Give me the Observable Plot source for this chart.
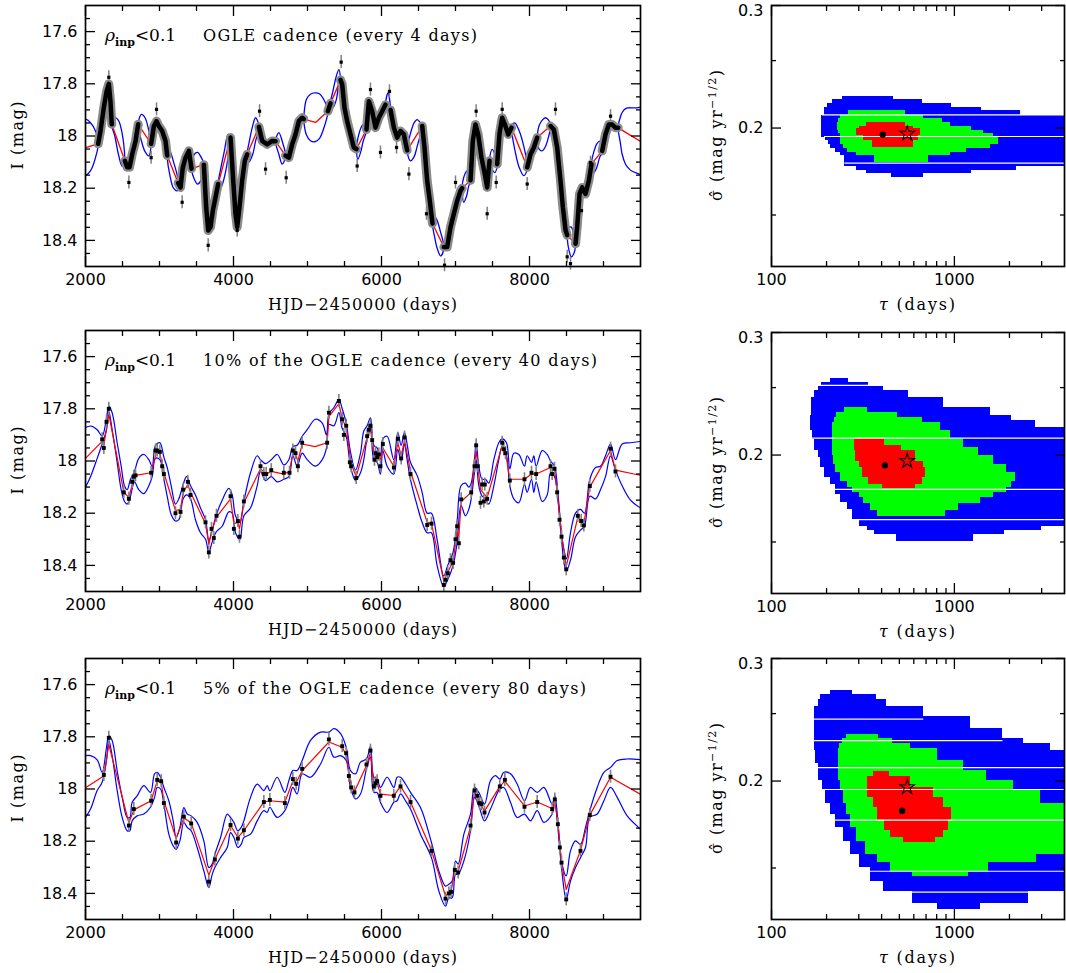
<!DOCTYPE html>
<html><head><meta charset="utf-8">
<script src="https://cdn.jsdelivr.net/npm/d3@7"></script>
<script src="https://cdn.jsdelivr.net/npm/@observablehq/plot@0.6"></script>
<style>
body{margin:0;background:#fff;}
#root{position:relative;width:1066px;height:973px;overflow:hidden;background:#fff;}
#root svg{position:absolute;overflow:visible;}
</style></head><body><div id="root"></div>
<script>
// ---------- axis ticks ----------
const xMajor = [2000, 4000, 6000, 8000];
const xMinor = [2500, 3000, 3500, 4500, 5000, 5500, 6500, 7000, 7500, 8500, 9000];
const yMajor = [17.6, 17.8, 18, 18.2, 18.4];
const yMinor = [17.55, 17.65, 17.7, 17.75, 17.85, 17.9, 17.95, 18.05, 18.1, 18.15, 18.25, 18.3, 18.35, 18.45];
const tauMajor = [100, 1000];
const tauMinor = [200, 300, 400, 500, 600, 700, 800, 900, 2000, 3000];
const sigMajor = [0.2, 0.3];
const sigMinor = [0.15, 0.25];

// ---------- top light curve (every 4 days): dense seasons [season, t, mag] ----------
const topBand = [
[1,2171,18.03],[1,2203,17.98],[1,2248,17.89],[1,2284,17.83],[1,2315,17.80],[1,2338,17.87],[1,2355,17.955],
[2,2532,18.095],[2,2563,18.12],[2,2595,18.12],[2,2631,18.07],[2,2676,18.02],[2,2712,17.955],
[3,2887,18.03],[3,2924,17.962],[3,2960,17.943],[3,2991,17.962],[3,3036,17.981],[3,3081,18.019],[3,3104,18.075],
[4,3252,18.18],[4,3284,18.197],[4,3315,18.121],[4,3352,18.083],[4,3397,18.057],[4,3433,18.125],
[5,3599,18.11],[5,3631,18.273],[5,3658,18.362],[5,3689,18.349],[5,3721,18.286],[5,3757,18.235],[5,3793,18.184],
[6,3960,18.006],[6,3996,18.171],[6,4027,18.298],[6,4050,18.349],[6,4081,18.273],[6,4117,18.171],[6,4153,18.095],[6,4185,18.07],
[7,4343,17.965],[7,4388,18.019],[7,4455,18.032],[7,4523,18.019],[7,4568,18.02],
[8,4703,18.075],[8,4748,18.083],[8,4793,18.032],[8,4838,17.994],[8,4883,17.943],[8,4928,17.93],[8,4950,17.935],
[9,5275,17.905],[9,5311,17.875],
[10,5446,17.785],[10,5469,17.803],[10,5500,17.892],[10,5536,17.943],[10,5581,17.994],[10,5626,18.044],[10,5662,18.05],
[11,5797,17.975],[11,5829,17.867],[11,5874,17.905],[11,5919,17.968],[11,5964,17.93],[11,6009,17.905],[11,6054,17.88],
[12,6122,17.9],[12,6167,17.968],[12,6212,18.006],[12,6257,17.981],[12,6302,17.994],[12,6347,18.055],
[13,6550,17.962],[13,6581,18.044],[13,6617,18.171],[13,6653,18.248],[13,6689,18.335],
[14,6843,18.425],[14,6888,18.425],[14,6933,18.349],[14,6978,18.298],[14,7023,18.248],[14,7068,18.21],[14,7090,18.2],
[15,7203,18.17],[15,7234,18.019],[15,7270,17.956],[15,7306,17.994],[15,7351,18.083],[15,7396,18.146],[15,7428,18.197],[15,7460,18.095],
[16,7563,18.108],[16,7595,17.99],[16,7631,17.93],[16,7667,17.956],[16,7712,17.994],[16,7757,17.968],
[17,7969,18.12],[17,8014,18.07],[17,8059,18.044],[17,8104,18.006],
[18,8284,17.962],[18,8329,17.975],[18,8374,18.044],[18,8419,18.171],[18,8451,18.273],[18,8487,18.36],[18,8509,18.38],
[19,8622,18.413],[19,8644,18.349],[19,8676,18.222],[19,8712,18.197],[19,8757,18.222],[19,8802,18.171],[19,8838,18.108],
[20,8982,18.057],[20,9027,17.994],[20,9072,17.956],[20,9117,17.956],[20,9162,17.968],[20,9198,17.968]
];
// scattered individual points of the dense curve [t, mag]
const topSpikes = [
[2315,17.775],[2586,18.178],[2960,17.898],[2887,18.083],[3306,18.254],[3658,18.419],[4050,18.362],[4352,17.905],[4433,18.127],
[4712,18.16],[5455,17.717],[5671,18.115],[5851,17.822],[5986,18.063],[6108,17.829],[6203,18.044],[6370,18.146],[6608,18.298],
[6852,18.495],[7000,18.178],[7279,17.905],[7428,18.298],[7550,18.178],[7631,17.898],[7969,18.184],[8351,17.898],[8509,18.463],
[8554,18.489],[8703,18.286],[8824,18.102],[9095,17.924]
];
// model mean across seasonal gaps [gap, t, mag]
const topRed = [
[1,2000,18.045],[1,2171,18.03],[2,2355,17.955],[2,2532,18.095],[3,2712,17.955],[3,2887,18.03],
[4,3104,18.075],[4,3252,18.18],[5,3433,18.125],[5,3599,18.11],[6,3793,18.184],[6,3960,18.006],
[7,4185,18.07],[7,4343,17.965],[8,4568,18.02],[8,4703,18.075],[9,4950,17.935],[9,5108,17.948],[9,5275,17.905],
[10,5311,17.875],[10,5446,17.785],[11,5662,18.05],[11,5797,17.975],[12,6054,17.88],[12,6122,17.9],
[13,6347,18.055],[13,6550,17.962],[14,6689,18.335],[14,6843,18.425],[15,7090,18.2],[15,7203,18.17],
[16,7460,18.095],[16,7563,18.108],[17,7757,17.968],[17,7969,18.12],[18,8104,18.006],[18,8284,17.962],
[19,8509,18.38],[19,8622,18.413],[20,8838,18.108],[20,8982,18.057],[21,9198,17.968],[21,9320,17.99],[21,9500,18.02]
];
// model 1-sigma envelope across gaps [gap, t, upper, lower]
const topBlue = [
[1,2000,17.937,18.149],[1,2068,17.949,18.133],[1,2135,17.981,18.083],[1,2171,18.022,18.038],
[2,2355,17.945,17.962],[2,2396,17.93,18.0],[2,2445,17.94,18.07],[2,2495,17.99,18.115],[2,2532,18.085,18.105],
[3,2712,17.95,17.965],[3,2757,17.917,18.02],[3,2805,17.93,18.06],[3,2856,17.98,18.076],[3,2887,18.025,18.035],
[4,3104,18.068,18.082],[4,3140,18.06,18.15],[4,3190,18.1,18.2],[4,3239,18.15,18.21],[4,3252,18.175,18.185],
[5,3433,18.118,18.13],[5,3470,18.07,18.165],[5,3515,18.063,18.184],[5,3560,18.08,18.17],[5,3599,18.105,18.115],
[6,3793,18.178,18.19],[6,3824,18.13,18.2],[6,3875,18.06,18.16],[6,3928,17.994,18.08],[6,3960,18.0,18.012],
[7,4185,18.064,18.076],[7,4207,18.03,18.1],[7,4260,17.96,18.07],[7,4298,17.93,18.02],[7,4343,17.958,17.972],
[8,4568,18.014,18.026],[8,4613,17.987,18.07],[8,4658,18.02,18.108],[8,4703,18.069,18.081],
[9,4950,17.928,17.942],[9,4985,17.86,17.995],[9,5040,17.84,18.018],[9,5100,17.835,18.022],[9,5160,17.838,18.01],[9,5220,17.86,17.97],[9,5275,17.898,17.912],
[10,5311,17.868,17.882],[10,5342,17.83,17.892],[10,5390,17.77,17.86],[10,5424,17.746,17.8],[10,5446,17.778,17.792],
[11,5662,18.04,18.06],[11,5680,18.01,18.089],[11,5720,17.97,18.06],[11,5752,17.956,18.02],[11,5797,17.968,17.982],
[12,6054,17.874,17.886],[12,6088,17.835,17.91],[12,6122,17.894,17.906],
[13,6347,18.048,18.062],[13,6392,17.99,18.095],[13,6440,17.95,18.08],[13,6482,17.937,18.04],[13,6530,17.95,17.99],[13,6550,17.956,17.968],
[14,6689,18.328,18.342],[14,6720,18.31,18.39],[14,6752,18.324,18.43],[14,6800,18.37,18.46],[14,6843,18.418,18.432],
[15,7090,18.193,18.207],[15,7110,18.16,18.254],[15,7150,18.135,18.23],[15,7180,18.133,18.19],[15,7203,18.163,18.177],
[16,7460,18.088,18.102],[16,7496,18.051,18.13],[16,7532,18.07,18.14],[16,7563,18.101,18.115],
[17,7757,17.962,17.975],[17,7800,17.95,18.05],[17,7860,17.98,18.12],[17,7923,18.04,18.152],[17,7969,18.113,18.127],
[18,8104,18.0,18.012],[18,8130,17.96,18.05],[18,8170,17.94,18.057],[18,8216,17.93,18.04],[18,8260,17.94,18.0],[18,8284,17.956,17.968],
[19,8509,18.372,18.388],[19,8535,18.35,18.44],[19,8565,18.349,18.463],[19,8600,18.38,18.45],[19,8622,18.406,18.42],
[20,8838,18.101,18.115],[20,8870,18.06,18.14],[20,8910,18.03,18.12],[20,8950,18.02,18.08],[20,8982,18.05,18.064],
[21,9198,17.962,17.975],[21,9230,17.925,18.03],[21,9252,17.91,18.07],[21,9298,17.895,18.108],[21,9343,17.892,18.125],[21,9388,17.892,18.135],[21,9450,17.892,18.142],[21,9500,17.892,18.146]
];

// ---------- middle light curve (every 40 days) ----------
const midPts = [
[2225,17.917],[2248,17.95],[2284,17.85],[2315,17.80],[2518,18.12],[2586,18.145],[2631,18.08],[2653,18.06],[2676,18.055],
[2887,18.045],[2946,17.96],[2969,17.96],[3005,17.965],[3036,18.02],[3059,18.05],[3216,18.2],[3284,18.195],[3320,18.11],
[3383,18.08],[3419,18.13],[3622,18.235],[3667,18.35],[3703,18.26],[3734,18.295],[3770,18.21],[3960,18.135],[4005,18.26],
[4059,18.23],[4081,18.29],[4140,18.155],[4365,18.02],[4410,18.05],[4442,18.05],[4510,18.035],[4680,18.045],[4757,18.045],
[4802,17.96],[4838,17.97],[4870,18.02],[4928,17.93],[5266,17.93],[5289,17.815],[5424,17.77],[5469,17.84],[5491,17.9],
[5523,17.865],[5572,18.005],[5590,18.02],[5658,18.065],[5806,17.905],[5829,17.88],[5851,17.865],[5874,17.92],[5905,17.995],
[5919,17.97],[5941,17.985],[5964,17.975],[5986,18.02],[6018,17.935],[6167,18.025],[6220,17.915],[6266,17.99],[6311,17.91],
[6392,18.05],[6617,18.245],[6676,18.24],[6842,18.475],[6865,18.455],[6896,18.43],[6932,18.38],[6968,18.39],[7000,18.3],
[7022,18.25],[7045,18.315],[7077,18.147],[7212,18.12],[7257,18.02],[7279,17.94],[7302,18.02],[7338,18.16],[7360,18.09],
[7383,18.155],[7396,18.09],[7428,18.145],[7631,17.93],[7653,17.955],[7676,17.97],[7734,18.075],[7932,18.07],[8027,18.045],
[8090,18.05],[8284,18.02],[8306,18.05],[8338,18.03],[8374,18.12],[8406,18.225],[8433,18.29],[8464,18.37],[8496,18.415],
[8653,18.21],[8698,18.23],[8734,18.247],[8815,18.096],[9095,17.953],[9162,18.04]
];
const midErr = 0.025;
const midRed = [
[2000,17.99],[2225,17.925],[2248,17.94],[2315,17.82],[2518,18.12],[2586,18.14],[2653,18.065],[2676,18.055],[2887,18.045],
[2960,17.965],[3005,17.97],[3059,18.045],[3216,18.19],[3284,18.185],[3320,18.12],[3383,18.09],[3419,18.12],[3622,18.24],
[3667,18.32],[3703,18.27],[3770,18.215],[3960,18.145],[4005,18.24],[4059,18.235],[4081,18.26],[4140,18.16],[4365,18.03],
[4442,18.05],[4510,18.04],[4680,18.05],[4757,18.04],[4802,17.97],[4838,17.975],[4870,18.0],[4928,17.935],[5100,17.945],
[5266,17.93],[5289,17.83],[5424,17.78],[5469,17.84],[5523,17.87],[5590,18.01],[5658,18.06],[5806,17.91],[5851,17.87],
[5905,17.98],[5964,17.975],[5986,18.0],[6018,17.95],[6167,18.02],[6220,17.93],[6266,17.98],[6311,17.92],[6392,18.04],
[6617,18.235],[6676,18.24],[6842,18.46],[6896,18.425],[6968,18.385],[7022,18.27],[7045,18.29],[7077,18.155],[7212,18.12],
[7279,17.96],[7338,18.11],[7428,18.14],[7631,17.94],[7676,17.965],[7734,18.07],[7932,18.07],[8027,18.05],[8090,18.05],
[8284,18.025],[8338,18.035],[8374,18.115],[8433,18.285],[8496,18.405],[8653,18.215],[8734,18.24],[8815,18.1],[9095,17.96],
[9162,18.035],[9500,18.055]
];
const midBlue = [
[2000,17.872,18.10],[2068,17.866,18.06],[2158,17.88,17.99],[2225,17.905,17.935],[2284,17.835,17.88],[2315,17.79,17.81],
[2360,17.815,17.88],[2428,17.93,18.005],[2482,18.02,18.11],[2527,18.095,18.155],[2563,18.11,18.165],[2608,18.07,18.135],
[2662,18.04,18.08],[2720,17.99,18.11],[2788,17.975,18.125],[2856,17.995,18.095],[2901,18.02,18.06],[2946,17.94,17.99],
[3005,17.93,17.995],[3059,17.985,18.07],[3104,18.025,18.135],[3158,18.095,18.205],[3216,18.165,18.23],[3261,18.145,18.225],
[3320,18.09,18.145],[3365,18.06,18.13],[3419,18.095,18.145],[3486,18.13,18.225],[3554,18.18,18.275],[3622,18.225,18.30],
[3667,18.305,18.35],[3712,18.265,18.31],[3770,18.205,18.27],[3847,18.15,18.25],[3937,18.105,18.195],[3982,18.13,18.2],
[4027,18.21,18.275],[4086,18.235,18.30],[4140,18.155,18.21],[4230,18.045,18.18],[4320,17.98,18.095],[4365,17.995,18.04],
[4433,18.01,18.075],[4510,17.995,18.06],[4591,17.975,18.08],[4680,18.015,18.07],[4748,17.995,18.06],[4802,17.945,17.98],
[4860,17.94,18.02],[4928,17.905,17.97],[4996,17.88,17.995],[5108,17.84,18.02],[5199,17.855,17.995],[5257,17.90,17.95],
[5289,17.82,17.86],[5357,17.795,17.865],[5424,17.765,17.815],[5469,17.80,17.875],[5523,17.855,17.905],[5581,17.965,18.02],
[5649,18.035,18.075],[5716,17.97,18.045],[5761,17.885,17.995],[5806,17.865,17.915],[5851,17.835,17.885],[5896,17.94,17.995],
[5941,17.95,18.005],[5986,17.98,18.05],[6018,17.915,17.96],[6076,17.905,18.02],[6166,17.995,18.05],[6220,17.89,17.955],
[6265,17.94,18.0],[6310,17.89,17.935],[6346,17.935,17.995],[6391,18.005,18.07],[6481,18.055,18.17],[6549,18.12,18.235],
[6617,18.2,18.275],[6675,18.2,18.275],[6751,18.3,18.4],[6841,18.44,18.48],[6895,18.40,18.455],[6967,18.35,18.4],
[7021,18.235,18.315],[7075,18.095,18.17],[7134,18.085,18.21],[7180,18.1,18.185],[7212,18.085,18.145],[7256,17.995,18.045],
[7279,17.93,17.995],[7315,18.02,18.095],[7360,18.07,18.135],[7405,18.07,18.145],[7450,18.085,18.165],[7518,17.995,18.095],
[7585,17.93,17.995],[7630,17.915,17.945],[7689,17.93,17.98],[7734,18.03,18.095],[7788,17.97,18.145],[7856,17.975,18.16],
[7932,18.02,18.09],[7968,17.98,18.12],[8027,18.005,18.07],[8058,17.98,18.12],[8090,18.02,18.08],[8171,17.96,18.155],
[8239,17.975,18.13],[8284,18.0,18.045],[8338,18.02,18.06],[8383,18.12,18.145],[8432,18.275,18.3],[8473,18.35,18.4],
[8500,18.375,18.42],[8554,18.275,18.38],[8622,18.2,18.29],[8689,18.185,18.265],[8743,18.2,18.25],[8815,18.07,18.135],
[8892,18.025,18.145],[8959,18.02,18.11],[9027,17.98,18.06],[9095,17.935,17.98],[9162,17.995,18.035],[9252,17.935,18.095],
[9365,17.93,18.15],[9500,17.925,18.18]
];

// ---------- bottom light curve (every 80 days) ----------
const botPts = [
[2248,17.946],[2315,17.804],[2586,18.14],[2653,18.077],[2887,18.045],[2969,17.965],[3023,17.97],[3059,18.054],[3225,18.205],
[3329,18.106],[3428,18.132],[3667,18.355],[3748,18.27],[3960,18.138],[4059,18.19],[4140,18.158],[4410,18.05],[4491,18.042],
[4694,18.054],[4802,17.962],[4847,17.98],[4928,17.923],[5289,17.81],[5469,17.836],[5523,17.863],[5559,17.95],[5590,17.994],
[5635,18.013],[5797,17.906],[5851,17.853],[5896,17.99],[5919,17.978],[5941,17.97],[5986,18.026],[6166,18.026],[6257,17.99],
[6392,18.05],[6675,18.237],[6865,18.42],[6910,18.4],[6941,18.394],[6991,18.31],[7036,18.32],[7203,18.14],[7257,18.006],
[7293,18.026],[7324,18.054],[7351,18.058],[7392,18.09],[7599,17.99],[7667,17.965],[7932,18.068],[8104,18.05],[8306,18.077],
[8342,18.04],[8383,18.135],[8410,18.224],[8433,18.282],[8496,18.423],[8689,18.237],[8815,18.1],[9095,17.953]
];
const botErr = 0.025;
const botRed = [
[2000,17.995],[2248,17.95],[2315,17.83],[2586,18.13],[2653,18.08],[2887,18.045],[2969,17.97],[3023,17.975],[3059,18.045],
[3225,18.19],[3329,18.11],[3428,18.13],[3667,18.33],[3748,18.27],[3960,18.14],[4059,18.185],[4140,18.16],[4410,18.05],
[4491,18.045],[4694,18.05],[4802,17.97],[4847,17.975],[4928,17.93],[5289,17.82],[5469,17.84],[5523,17.87],[5590,17.99],
[5635,18.01],[5797,17.91],[5851,17.86],[5896,17.985],[5941,17.975],[5986,18.02],[6166,18.025],[6257,17.99],[6392,18.05],
[6675,18.235],[6865,18.41],[6941,18.39],[6991,18.315],[7036,18.315],[7203,18.145],[7257,18.01],[7324,18.05],[7392,18.085],
[7599,17.99],[7667,17.97],[7932,18.065],[8104,18.05],[8306,18.075],[8342,18.045],[8383,18.13],[8433,18.28],[8496,18.385],
[8689,18.235],[8815,18.1],[9095,17.955],[9500,18.02]
];
const botBlue = [
[2000,17.872,18.109],[2068,17.872,18.077],[2158,17.888,18.006],[2225,17.936,17.974],[2284,17.84,17.89],[2315,17.795,17.814],
[2360,17.814,17.872],[2428,17.93,18.006],[2496,18.032,18.109],[2563,18.109,18.16],[2599,18.109,18.16],[2631,18.051,18.122],
[2698,18.026,18.103],[2788,17.987,18.096],[2878,18.013,18.07],[2933,17.942,18.032],[2969,17.936,17.994],[3014,17.955,18.0],
[3059,17.994,18.058],[3126,18.045,18.173],[3185,18.122,18.218],[3225,18.186,18.231],[3275,18.147,18.199],[3329,18.071,18.128],
[3374,18.096,18.147],[3428,18.103,18.16],[3509,18.128,18.224],[3599,18.199,18.314],[3667,18.301,18.378],[3712,18.288,18.327],
[3748,18.25,18.301],[3825,18.186,18.263],[3915,18.096,18.224],[3960,18.109,18.167],[4005,18.128,18.186],[4059,18.16,18.224],
[4104,18.147,18.212],[4140,18.122,18.186],[4230,18.032,18.173],[4320,17.981,18.122],[4410,18.006,18.083],[4455,17.987,18.09],
[4491,18.006,18.07],[4590,17.955,18.109],[4694,18.013,18.083],[4748,17.968,18.045],[4802,17.929,17.994],[4860,17.929,18.019],
[4928,17.891,17.942],[5041,17.814,17.955],[5176,17.782,17.904],[5289,17.782,17.84],[5357,17.769,17.878],[5447,17.788,17.872],
[5523,17.84,17.891],[5581,17.929,17.994],[5649,17.942,18.038],[5716,17.897,18.019],[5797,17.885,17.923],[5851,17.837,17.878],
[5896,17.955,18.013],[5941,17.962,18.013],[5986,17.994,18.051],[6076,17.955,18.09],[6166,17.994,18.051],[6211,17.955,18.045],
[6257,17.955,18.019],[6324,17.981,18.045],[6392,18.013,18.077],[6527,18.071,18.173],[6675,18.205,18.263],[6775,18.314,18.391],
[6865,18.372,18.449],[6910,18.365,18.417],[6955,18.353,18.417],[7000,18.276,18.327],[7036,18.288,18.327],[7113,18.173,18.276],
[7203,18.096,18.16],[7257,17.994,18.032],[7315,18.013,18.064],[7392,18.058,18.122],[7473,17.968,18.077],[7540,17.949,18.032],
[7599,17.962,18.0],[7653,17.936,17.994],[7743,17.942,18.051],[7833,17.981,18.109],[7932,18.045,18.096],[8013,17.994,18.122],
[8104,18.013,18.083],[8194,17.994,18.128],[8306,18.058,18.096],[8342,18.026,18.051],[8383,18.122,18.147],[8433,18.276,18.301],
[8496,18.333,18.423],[8554,18.237,18.353],[8622,18.199,18.301],[8689,18.212,18.263],[8757,18.147,18.224],[8815,18.083,18.109],
[8915,17.994,18.096],[9005,17.936,18.045],[9095,17.917,17.994],[9185,17.891,18.032],[9320,17.885,18.103],[9500,17.888,18.154]
];

// ---------- confidence regions: rows [sigmaLow, sigmaHigh, tauMin, tauMax] ----------
const c1Blue = [[0.2196,0.2220,246,463],[0.2168,0.2196,215,666],[0.2138,0.2168,202,959],[0.2120,0.2138,194,1415],
[0.2085,0.2120,194,2310],[0.1941,0.2085,188,4000],[0.1920,0.1941,198,4000],[0.1895,0.1920,205,4000],[0.1868,0.1895,211,4000],
[0.1847,0.1868,224,4000],[0.1827,0.1847,239,4000],[0.1763,0.1827,252,4000],[0.1738,0.1763,292,2198],[0.1723,0.1738,331,1248],
[0.1700,0.1723,455,675]];
const c1Green = [[0.2085,0.2120,265,540],[0.2063,0.2085,239,680],[0.2040,0.2063,231,856],[0.2011,0.2040,229,951],
[0.1985,0.2011,229,1248],[0.1963,0.1985,231,1445],[0.1941,0.1963,237,1639],[0.1895,0.1941,237,1746],[0.1868,0.1895,249,1571],
[0.1847,0.1868,260,1172],[0.1827,0.1847,292,951],[0.1787,0.1827,366,725]];
const c1Red = [[0.2011,0.2040,331,540],[0.1996,0.2011,301,600],[0.1952,0.1996,292,652],[0.1920,0.1952,320,640],[0.1878,0.1920,356,600]];
const c1White = [[0.2089,190,4000],[0.1945,195,4000],[0.1781,252,4000]];
const c1Best = [[406,0.1957]];
const c1True = [[552,0.1963]];

const c2Blue = [[0.2546,0.2574,209,265],[0.2518,0.2546,187,338],[0.2476,0.2518,180,412],[0.2422,0.2476,171,563],
[0.2343,0.2422,165,875],[0.2279,0.2343,165,1571],[0.2241,0.2279,164,2063],[0.2192,0.2241,164,2765],[0.2168,0.2192,164,4000],
[0.2108,0.2168,167,4000],[0.2028,0.2108,171,4000],[0.1983,0.2028,180,4000],[0.1918,0.1983,186,4000],[0.1856,0.1918,194,4000],
[0.1815,0.1856,209,4000],[0.1755,0.1815,224,4000],[0.1708,0.1755,239,4000],[0.1670,0.1708,260,4000],[0.1615,0.1670,277,4000],
[0.1580,0.1615,301,4000],[0.1557,0.1580,334,3008],[0.1536,0.1557,366,1874],[0.1503,0.1536,483,1275]];
const c2Green = [[0.2304,0.2338,251,337],[0.2266,0.2304,227,487],[0.2229,0.2266,220,666],[0.2168,0.2229,215,839],
[0.2108,0.2168,215,951],[0.2050,0.2108,215,1125],[0.1994,0.2050,215,1357],[0.1940,0.1994,218,1639],[0.1887,0.1940,224,1937],
[0.1835,0.1887,239,2151],[0.1795,0.1835,260,2063],[0.1765,0.1795,277,1937],[0.1736,0.1765,301,1639],[0.1702,0.1736,320,1386],
[0.1664,0.1702,348,1056],[0.1633,0.1664,379,893]];
const c2Red = [[0.2062,0.2115,285,415],[0.2028,0.2062,285,512],[0.1961,0.2028,288,613],[0.1918,0.1961,301,680],
[0.1856,0.1918,313,695],[0.1815,0.1856,341,666],[0.1791,0.1815,403,613]];
const c2White = [[0.2518,180,412],[0.2115,167,4000],[0.1785,224,4000],[0.1615,301,4000]];
const c2Best = [[417,0.1933]];
const c2True = [[552,0.1961]];

const c3Blue = [[0.2663,0.2702,211,277],[0.2618,0.2663,186,375],[0.2561,0.2618,180,425],[0.2477,0.2561,172,680],
[0.2382,0.2477,172,1222],[0.2304,0.2382,172,1843],[0.2266,0.2304,172,2388],[0.2216,0.2266,172,3339],[0.2120,0.2216,175,4000],
[0.2005,0.2120,180,4000],[0.1938,0.2005,190,4000],[0.1854,0.1938,198,4000],[0.1793,0.1854,211,4000],[0.1715,0.1793,224,4000],
[0.1640,0.1715,249,4000],[0.1569,0.1640,271,4000],[0.1501,0.1569,301,4000],[0.1435,0.1501,348,4000],[0.1388,0.1435,412,4000],
[0.1335,0.1388,587,2544],[0.1308,0.1335,804,1386]];
const c3Green = [[0.2304,0.2335,258,386],[0.2266,0.2304,244,457],[0.2228,0.2266,234,575],[0.2143,0.2228,231,804],
[0.2073,0.2143,231,1125],[0.2005,0.2073,231,1507],[0.1938,0.2005,237,2107],[0.1854,0.1938,249,2947],[0.1793,0.1854,258,4000],
[0.1715,0.1793,271,4000],[0.1640,0.1715,292,4000],[0.1569,0.1640,327,4000],[0.1526,0.1569,379,2825],[0.1484,0.1526,448,1538],
[0.1459,0.1484,587,1197]];
const c3Red = [[0.2027,0.2061,363,444],[0.1960,0.2027,334,575],[0.1896,0.1960,334,771],[0.1833,0.1896,363,875],
[0.1753,0.1833,379,959],[0.1696,0.1753,415,931],[0.1658,0.1696,448,875],[0.1634,0.1658,529,787]];
const c3White = [[0.2455,172,680],[0.2286,172,1843],[0.2091,180,4000],[0.1945,190,4000],[0.1757,224,4000],[0.1484,348,4000],[0.1385,587,2544]];
const c3Best = [[518,0.1813]];
const c3True = [[552,0.1960]];

const cadenceLabels = ["OGLE cadence (every 4 days)", "10% of the OGLE cadence (every 40 days)", "5% of the OGLE cadence (every 80 days)"];
const cadenceWidths = [274, 394, 383];

// ---------- drawing ----------
const BLUE = "#0000ff", RED = "#ff0000", GREEN = "#00ff00";
const root = document.getElementById("root");

function boxAxes(xMaj, xMin, yMaj, yMin, xFmt, yFmt, topLabelDy = 0) {
  const yMid = yMaj.slice(0, -1), yTop = yMaj.slice(-1);
  const m = [
    Plot.frame({stroke: "black", strokeWidth: 1.7}),
    Plot.axisX(xMaj, {anchor: "bottom", tickSize: 0, tickPadding: 7, tickFormat: xFmt, label: null, fontSize: 16}),
    Plot.axisY(yMid, {anchor: "left", tickSize: 0, tickPadding: 8, tickFormat: yFmt, label: null, fontSize: 16}),
    Plot.axisY(yTop, {anchor: "left", tickSize: 0, tickPadding: 8, tickFormat: yFmt, label: null, fontSize: 16, dy: topLabelDy})
  ];
  for (const a of ["bottom", "top"]) {
    m.push(Plot.axisX(xMaj, {anchor: a, tickSize: -10, fill: "none", label: null, strokeWidth: 1.3}));
    m.push(Plot.axisX(xMin, {anchor: a, tickSize: -5, fill: "none", label: null, strokeWidth: 1.3}));
  }
  for (const a of ["left", "right"]) {
    m.push(Plot.axisY(yMaj, {anchor: a, tickSize: -10, fill: "none", label: null, strokeWidth: 1.3}));
    m.push(Plot.axisY(yMin, {anchor: a, tickSize: -5, fill: "none", label: null, strokeWidth: 1.3}));
  }
  return m;
}

function place(svg, left, top) {
  svg.style.left = left + "px";
  svg.style.top = top + "px";
  root.appendChild(svg);
  return svg;
}

function addText(svg, {x, y, rotate = 0, anchor = "start", size = 15, family = "DejaVu Serif", length = null, parts}) {
  const t = d3.select(svg).append("text")
    .attr("transform", `translate(${x},${y}) rotate(${rotate})`)
    .attr("text-anchor", anchor)
    .attr("font-family", family)
    .attr("font-size", size)
    .attr("fill", "black");
  if (length) t.attr("textLength", length).attr("lengthAdjust", "spacing");
  for (const p of parts) {
    const s = t.append("tspan").text(p.text);
    if (p.dy) s.attr("dy", p.dy);
    if (p.size) s.attr("font-size", p.size);
    if (p.weight) s.attr("font-weight", p.weight);
    if (p.style) s.attr("font-style", p.style);
  }
}

const styleBase = {background: "transparent", color: "black", fontFamily: "DejaVu Sans", fontSize: "16px", overflow: "visible"};

function lightPanel(top, dataMarks, idx) {
  const svg = Plot.plot({
    width: 660, height: 320,
    marginLeft: 85, marginRight: 20, marginTop: 5, marginBottom: 54,
    x: {domain: [2000, 9500]},
    y: {domain: [17.5, 18.5], reverse: true},
    style: styleBase,
    marks: [...dataMarks, ...boxAxes(xMajor, xMinor, yMajor, yMinor, d => String(d), d => String(d))]
  });
  place(svg, 0, top);
  addText(svg, {x: 105, y: 41, size: 17, parts: [
    {text: "ρ", style: "italic"},
    {text: "inp", size: 11, weight: "bold", dy: 5},
    {text: "<0.1", dy: -5}
  ]});
  addText(svg, {x: 203, y: 41, size: 16, length: cadenceWidths[idx], parts: [{text: cadenceLabels[idx]}]});
  addText(svg, {x: 362.5, y: 310, anchor: "middle", size: 16, length: 189, parts: [{text: "HJD\u22122450000 (days)"}]});
  addText(svg, {x: 23, y: 135.5, rotate: -90, anchor: "middle", size: 16, length: 68, parts: [{text: "I (mag)"}]});
}

function sparseMarks(pts, err, red, blue) {
  return [
    Plot.line(blue, {x: d => d[0], y: d => d[1], curve: "catmull-rom", stroke: BLUE, strokeWidth: 1.2, clip: true}),
    Plot.line(blue, {x: d => d[0], y: d => d[2], curve: "catmull-rom", stroke: BLUE, strokeWidth: 1.2, clip: true}),
    Plot.line(red, {x: d => d[0], y: d => d[1], stroke: RED, strokeWidth: 1.2, clip: true}),
    Plot.ruleX(pts, {x: d => d[0], y1: d => d[1] - err, y2: d => d[1] + err, stroke: "#808080", strokeWidth: 1.6}),
    Plot.dot(pts, {x: d => d[0], y: d => d[1], symbol: "square", r: 2.2, fill: "black", stroke: null})
  ];
}

// top panel
const topLoops = d3.groups(topBlue, d => d[0]).flatMap(([g, rows]) => [
  ...rows.map(r => ({g, t: r[1], m: r[2]})),
  ...rows.slice().reverse().map(r => ({g, t: r[1], m: r[3]}))
]);
lightPanel(0, [
  Plot.line(topLoops, {x: "t", y: "m", z: "g", curve: "catmull-rom-closed", stroke: BLUE, strokeWidth: 1.3, clip: true}),
  Plot.line(topRed, {x: d => d[1], y: d => d[2], z: d => d[0], stroke: RED, strokeWidth: 1.3, clip: true}),
  Plot.ruleX(topSpikes, {x: d => d[0], y1: d => d[1] - 0.025, y2: d => d[1] + 0.025, stroke: "#808080", strokeWidth: 1.5}),
  Plot.line(topBand, {x: d => d[1], y: d => d[2], z: d => d[0], stroke: "#8a8a8a", strokeWidth: 9, strokeLinejoin: "round", strokeLinecap: "round"}),
  Plot.line(topBand, {x: d => d[1], y: d => d[2], z: d => d[0], stroke: "black", strokeWidth: 4.5, strokeLinejoin: "round", strokeLinecap: "round"}),
  Plot.dot(topSpikes, {x: d => d[0], y: d => d[1], symbol: "square", r: 1.8, fill: "black", stroke: null})
], 0);
lightPanel(325, sparseMarks(midPts, midErr, midRed, midBlue), 1);
lightPanel(653, sparseMarks(botPts, botErr, botRed, botBlue), 2);

// contour panels
function contourPanel(top, blue, green, red, white, best, truth) {
  const rectOpts = (fill) => ({x1: d => d[2], x2: d => d[3], y1: d => d[0], y2: d => d[1], fill, shapeRendering: "crispEdges"});
  const svg = Plot.plot({
    width: 366, height: 320,
    marginLeft: 71, marginRight: 2, marginTop: 5, marginBottom: 54,
    x: {type: "log", domain: [100, 4000]},
    y: {type: "log", domain: [0.1265, 0.3]},
    style: styleBase,
    marks: [
      Plot.rect(blue, rectOpts(BLUE)),
      Plot.rect(green, rectOpts(GREEN)),
      Plot.rect(red, rectOpts(RED)),
      Plot.ruleY(white, {y: d => d[0], x1: d => d[1], x2: d => d[2], stroke: "white", strokeWidth: 1.2}),
      Plot.dot(best, {x: d => d[0], y: d => d[1], r: 3.2, fill: "black", stroke: null}),
      Plot.dot(truth, {x: d => d[0], y: d => d[1], symbol: "star", r: 4.6, fill: "none", stroke: "black", strokeWidth: 1.1}),
      ...boxAxes(tauMajor, tauMinor, sigMajor, sigMinor, d => String(d), d => d.toFixed(1), 5)
    ]
  });
  place(svg, 700, top);
  addText(svg, {x: 217, y: 310, anchor: "middle", size: 16, length: 76, parts: [{text: "τ", style: "italic"}, {text: " (days)"}]});
  addText(svg, {x: 22, y: 135.5, rotate: -90, anchor: "middle", size: 16, length: 131, parts: [
    {text: "σ\u0302 (mag yr"},
    {text: "\u22121/2", size: 11, dy: -6},
    {text: ")", dy: 6}
  ]});
}
contourPanel(0, c1Blue, c1Green, c1Red, c1White, c1Best, c1True);
contourPanel(327, c2Blue, c2Green, c2Red, c2White, c2Best, c2True);
contourPanel(653, c3Blue, c3Green, c3Red, c3White, c3Best, c3True);
</script></body></html>
